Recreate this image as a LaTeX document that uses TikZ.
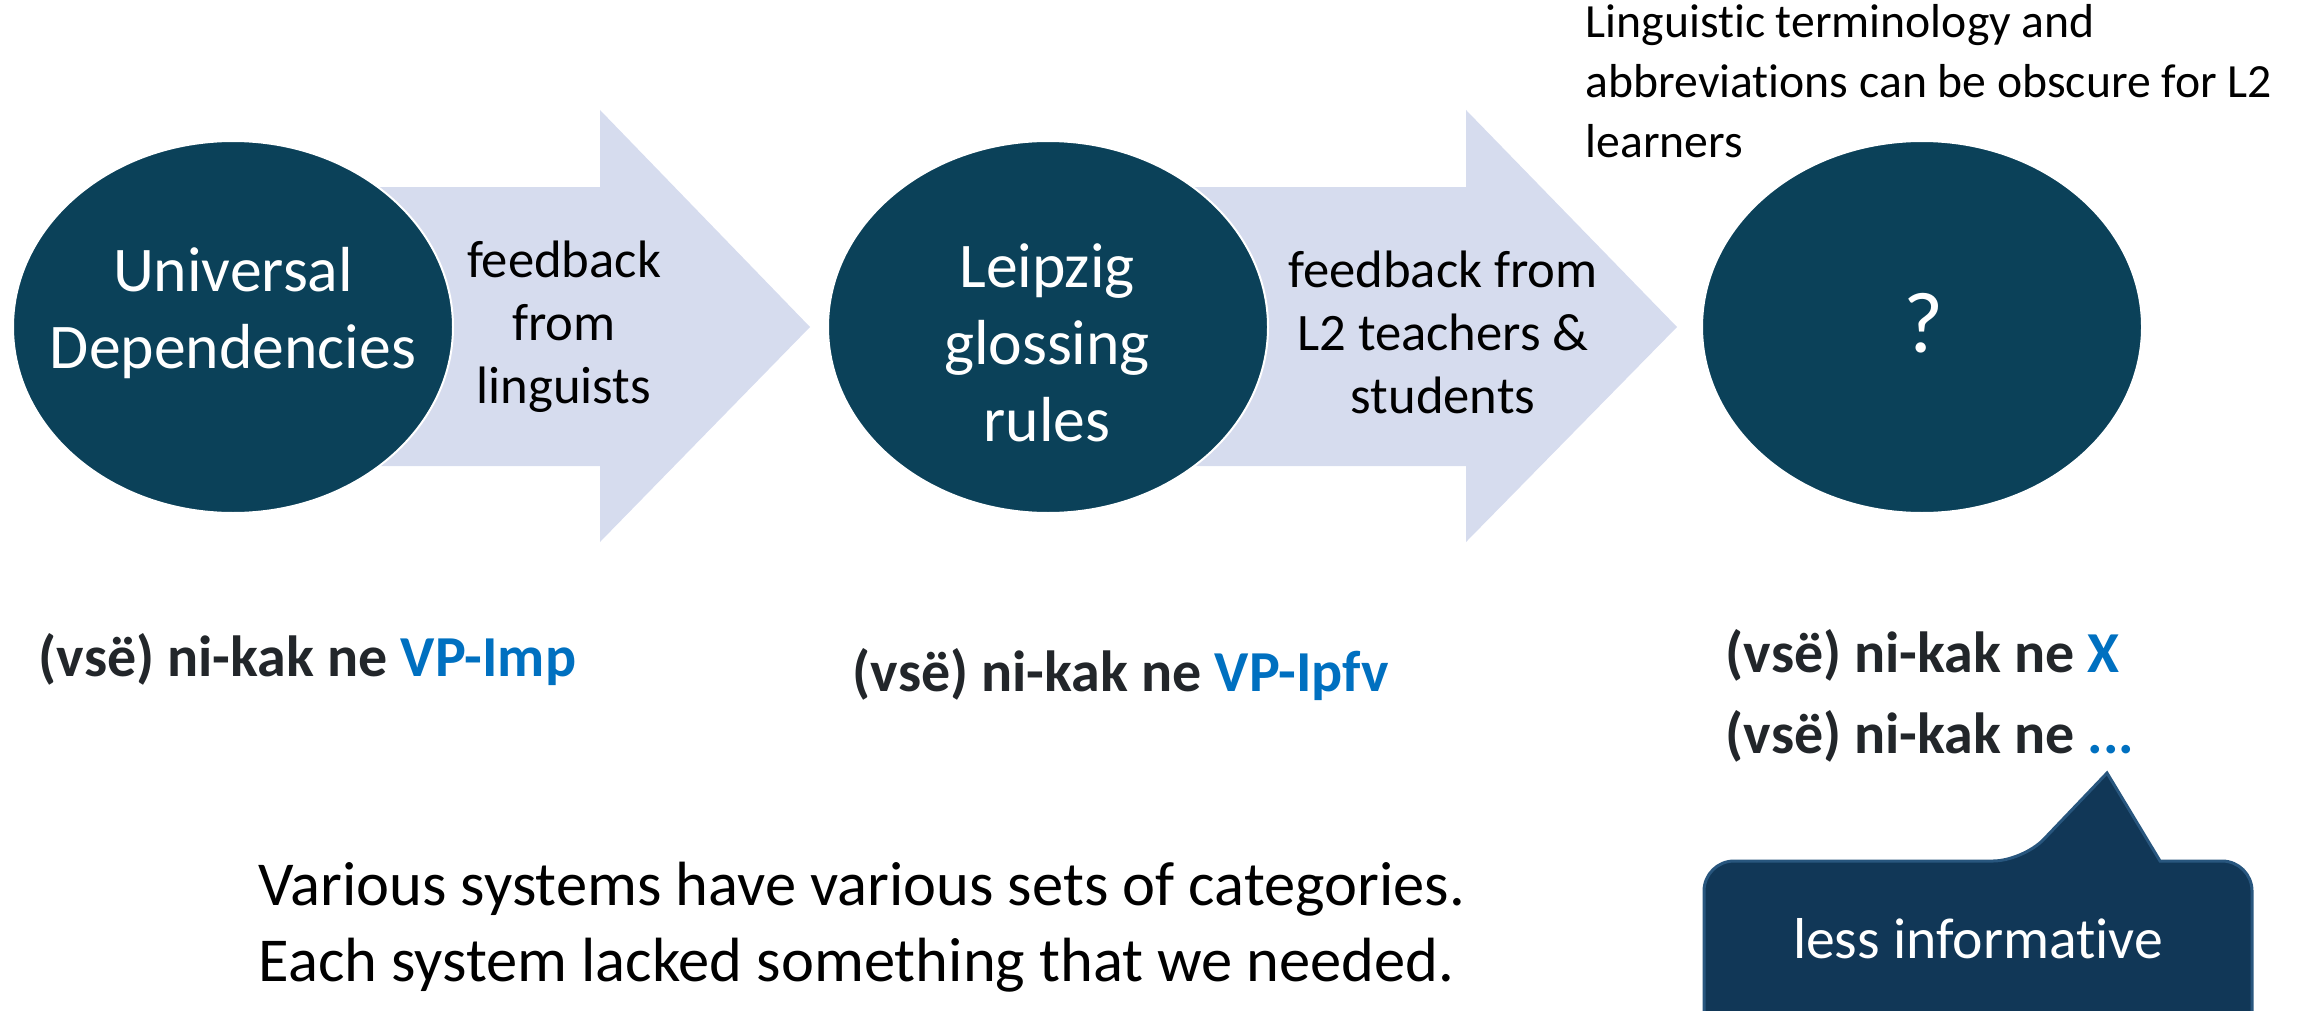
\documentclass[tikz,border=0pt]{standalone}
\usepackage{fontspec}
\setmainfont{Carlito}[Ligatures=NoCommon]
\usetikzlibrary{shapes.geometric,positioning,calc}
\definecolor{systemteal}{RGB}{11,65,89}
\definecolor{feedbacklav}{RGB}{214,220,238}
\definecolor{noteblue}{RGB}{17,55,87}
\definecolor{noteedge}{RGB}{40,86,126}
\definecolor{glossblue}{RGB}{0,112,192}
\definecolor{glossdark}{RGB}{34,38,42}

\begin{document}
\begin{tikzpicture}[x=0.3pt, y=-0.3pt,
    system/.style={draw=white, line width=0.6pt, fill=systemteal, ellipse, minimum width=132pt, minimum height=111.6pt, inner sep=0pt},
    systemlabel/.style={text=white, align=center, inner sep=0pt, font=\fontsize{19.1}{23.1}\selectfont},
    feedback/.style={align=center, inner sep=0pt, font=\fontsize{15.8}{18.9}\selectfont},
    gloss/.style={anchor=base west, inner sep=0pt, text=glossdark, font=\bfseries\fontsize{17.4}{21}\selectfont},
    remark/.style={align=left, anchor=west, inner sep=0pt, font=\fontsize{18.75}{22.8}\selectfont}]
    \useasboundingbox (0,0) rectangle (2305,1010);

    % Feedback arrows (behind the systems)
    \fill[feedbacklav] (233,187) -- (600,187) -- (600,110) -- (810,327) -- (600,542) -- (600,466) -- (233,466) -- cycle;
    \fill[feedbacklav] (1048,187) -- (1466,187) -- (1466,110) -- (1677,327) -- (1466,542) -- (1466,466) -- (1048,466) -- cycle;

    % Universal Dependencies
    \node[system] (ud) at (233,327) {};
    \node[systemlabel] (udlabel) at (233,313) {Universal\\Dependencies};
    \node[feedback] (fblinguists) at (564,327) {feedback\\from\\linguists};

    % Leipzig glossing rules
    \node[system] (leipzig) at (1048,327) {};
    \node[systemlabel] (leipziglabel) at (1047,343) {Leipzig\\glossing\\rules};
    \node[feedback] (fbteachers) at (1443,332) {feedback from\\L2 teachers \&\\students};

    % Unknown system
    \node[system] (unknown) at (1922,327) {};
    \node[systemlabel, font=\fontsize{26}{30}\selectfont] (unknownlabel) at (1924,323) {?};
    \node[align=left, anchor=west, inner sep=0pt, font=\fontsize{14.3}{17.9}\selectfont] (obscure) at (1585,81)
        {Linguistic terminology and\\abbreviations can be obscure for L2\\learners};

    % Glosses
    \node[gloss] (glossud) at (38,676) {(vsë) ni-kak ne \textcolor{glossblue}{VP-Imp}};
    \node[gloss] (glossleipzig) at (852,691) {(vsë) ni-kak ne \textcolor{glossblue}{VP-Ipfv}};
    \node[gloss] (glossx) at (1725,672) {(vsë) ni-kak ne \textcolor{glossblue}{X}};
    \node[gloss] (glossdots) at (1725,753) {(vsë) ni-kak ne \textcolor{glossblue}{...}};

    % Summary
    \node[remark] (summary) at (258,927) {Various systems have various sets of categories.\\Each system lacked something that we needed.};

    % Callout
    \filldraw[fill=noteblue, draw=noteedge, line width=0.9pt]
        (1704,1040) [rounded corners=9pt] -- (1704,861) -- (2023,861) [sharp corners] -- (2107,773)
        -- (2160,861) [rounded corners=9pt] -- (2252,861) -- (2252,1040) -- cycle;
    \node[text=white, anchor=base, inner sep=0pt, font=\fontsize{17.3}{21}\selectfont] (lessinfo) at (1978,958) {less informative};
\end{tikzpicture}
\end{document}
